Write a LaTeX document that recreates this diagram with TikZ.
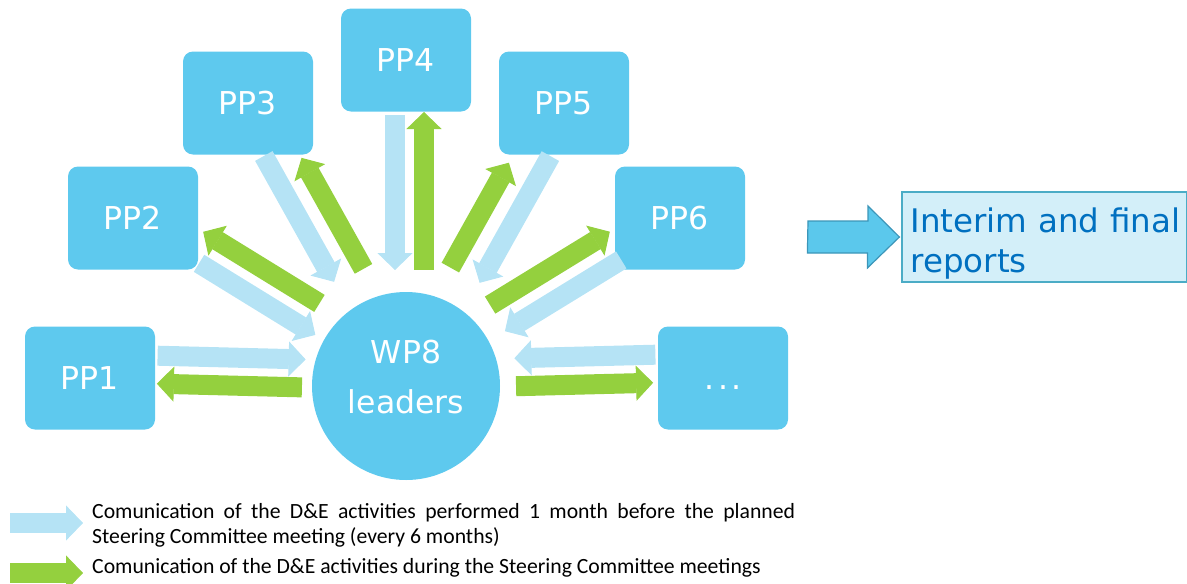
\documentclass[tikz,border=0pt]{standalone}
\usepackage{fontspec}
\usepackage{tikz}
\usetikzlibrary{arrows.meta,calc}
\newfontfamily\boxfont{DejaVu Sans}
\newfontfamily\keyfont{Carlito}
\definecolor{ppblue}{RGB}{94,201,238}
\definecolor{inblue}{RGB}{181,227,245}
\definecolor{outgreen}{RGB}{148,208,62}
\definecolor{rptfill}{RGB}{211,239,249}
\definecolor{rptline}{RGB}{75,172,198}
\definecolor{rpttext}{RGB}{0,112,192}
\definecolor{rptarrow}{RGB}{91,200,236}
\definecolor{rptedge}{RGB}{60,150,185}
\tikzset{
    pp-box/.style = {fill=ppblue, rectangle, rounded corners=10pt, minimum width=130pt, minimum height=103pt, text=white, font=\boxfont\fontsize{31.5}{37}\selectfont, text height=23pt, text depth=0pt},
    lead-circle/.style = {fill=ppblue, circle, minimum size=188pt, text=white, align=center, font=\boxfont\fontsize{31.5}{50}\selectfont},
    in-flow/.style = {draw=inblue, line width=20pt, -{Triangle[length=17pt, width=35pt, line width=1pt]}},
    out-flow/.style = {draw=outgreen, line width=20pt, {Triangle[length=17pt, width=35pt, line width=1pt]}-},
    report-box/.style = {draw=rptline, fill=rptfill, line width=1.2pt, rectangle, minimum height=90pt, text width=268pt, inner xsep=8.5pt, inner ysep=0pt, align=left, text=rpttext, font=\boxfont\fontsize{32.5}{40}\selectfont},
    report-arrow/.style = {draw=rptedge, fill=rptarrow, line width=1.2pt},
    key-text/.style = {anchor=base west, inner sep=0pt, font=\keyfont\fontsize{21.7}{25}\selectfont},
}
% #1 box, then shift / distance from box / distance from wp8 for the blue and the green arrow
\newcommand{\flowpair}[7]{%
    \draw[in-flow] ($($(#1)!#3pt!(wp8)$)!#2pt!90:(wp8)$) -- ($($(wp8)!#4pt!(#1)$)!#2pt!-90:(#1)$);
    \draw[out-flow] ($($(#1)!#6pt!(wp8)$)!#5pt!90:(wp8)$) -- ($($(wp8)!#7pt!(#1)$)!#5pt!-90:(#1)$);
}

\begin{document}
\begin{tikzpicture}[x=1pt, y=-1pt]
\useasboundingbox (0,0) rectangle (1187,584);

\node[lead-circle] (wp8) at (406,386) {WP8\\leaders\rule[-18pt]{0pt}{18pt}};
\node[pp-box] (pp1) at (90,378) {PP1};
\node[pp-box] (pp2) at (133,218) {PP2};
\node[pp-box] (pp3) at (248,103) {PP3};
\node[pp-box] (pp4) at (406,60) {PP4};
\node[pp-box] (pp5) at (564,103) {PP5};
\node[pp-box] (pp6) at (680,218) {PP6};
\node[pp-box] (ppx) at (723,378) {.\kern3.5pt.\kern3.5pt.};

\foreach \b/\sb/\db/\eb/\sg/\dg/\eg in {pp1/24/67/101/-4/67/104, pp2/-4/80/104/25/67/117, pp3/-12/54/126/20/74/123, pp4/-11/55/116/18/52/116, pp5/14/53/126/-19/79/125, pp6/5/72/113/-25/67/114, ppx/-25/67/109/3/70/110}
    {\flowpair{\b}{\sb}{\db}{\eb}{\sg}{\dg}{\eg}}

\node[report-box] (report) at (1044.5,237) {\rule{0pt}{38pt}\mbox{Interim and final}\\reports};
\coordinate (rptstart) at (808,237);
\draw[report-arrow] (rptstart) ++(0,-16) -- ++(60,0) -- ++(0,-15) -- ([xshift=-2pt]report.west) -- ++(-32,31) -- ++(0,-15) -- ++(-60,0) -- cycle;

\coordinate (key1tail) at (10,523);
\coordinate (key1tip) at (83,523);
\coordinate (key2tail) at (10,573);
\coordinate (key2tip) at (83,573);
\draw[in-flow] (key1tail) -- (key1tip);
\draw[out-flow] (key2tip) -- (key2tail);
\node[key-text] (key1a) at (92,518) {\makebox[703pt][s]{Comunication of the D\&E activities performed 1 month before the planned}};
\node[key-text] (key1b) at (92,543) {Steering Committee meeting (every 6 months)};
\node[key-text] (key2) at (92,573) {Comunication of the D\&E activities during the Steering Committee meetings};
\end{tikzpicture}
\end{document}
